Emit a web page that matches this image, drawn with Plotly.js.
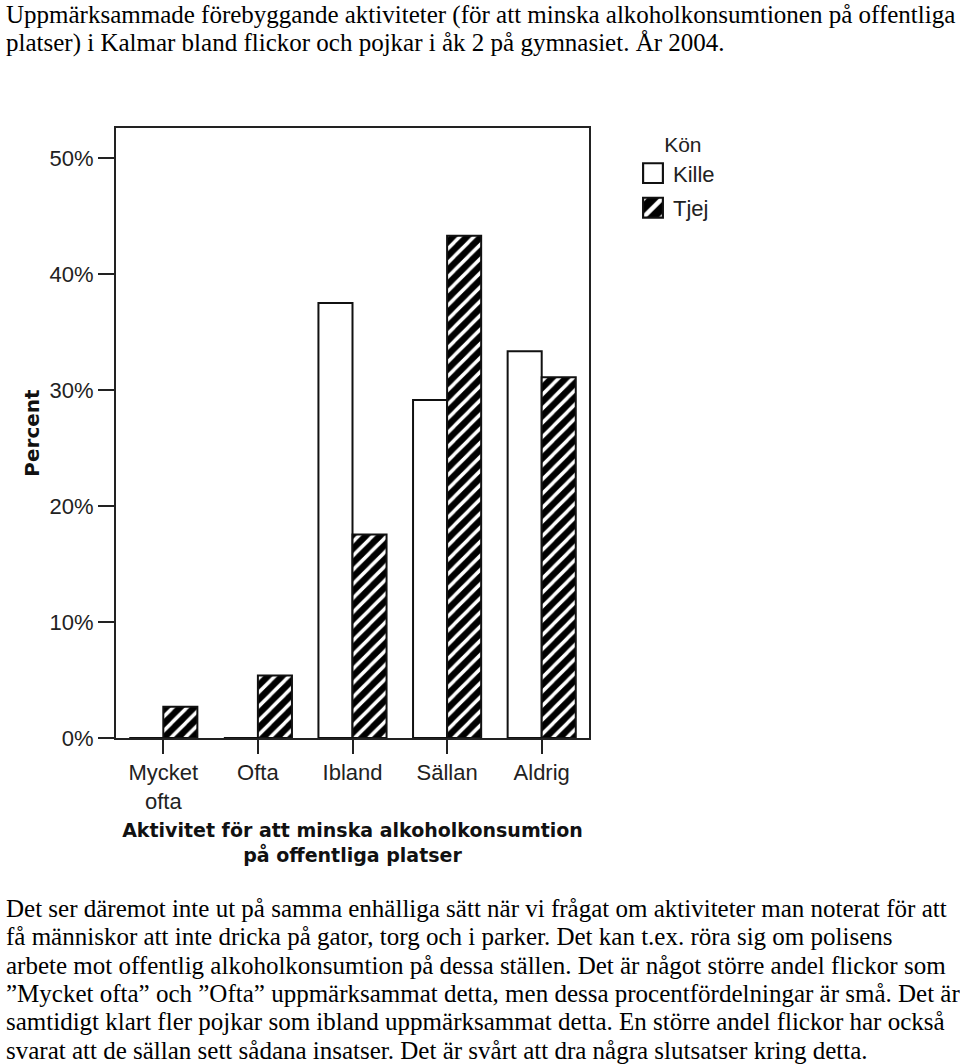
<!DOCTYPE html>
<html>
<head>
<meta charset="utf-8">
<script src="https://cdn.plot.ly/plotly-3.0.1.min.js"></script>
<style>
  html, body { margin: 0; padding: 0; background: #fff; }
  #chart { width: 960px; height: 1064px; }
</style>
</head>
<body>
<div id="chart"></div>
<script>
const categories = ["Mycket<br>ofta", "Ofta", "Ibland", "Sällan", "Aldrig"];
const killeValues = [0, 0, 37.5, 29.15, 33.35];
const tjejValues = [2.7, 5.4, 17.55, 43.3, 31.1];
const yTickValues = [0, 10, 20, 30, 40, 50];
const yTickLabels = ["0%", "10%", "20%", "30%", "40%", "50%"];
const seriesNames = ["Kille", "Tjej"];
const legendTitle = "Kön";
const xTitle = "Aktivitet för att minska alkoholkonsumtion<br>på offentliga platser";
const yTitle = "Percent";
const headingLines = [
  "Uppmärksammade förebyggande aktiviteter (för att minska alkoholkonsumtionen på offentliga",
  "platser) i Kalmar bland flickor och pojkar i åk 2 på gymnasiet. År 2004."
];
const paragraphLines = [
  "Det ser däremot inte ut på samma enhälliga sätt när vi frågat om aktiviteter man noterat för att",
  "få människor att inte dricka på gator, torg och i parker. Det kan t.ex. röra sig om polisens",
  "arbete mot offentlig alkoholkonsumtion på dessa ställen. Det är något större andel flickor som",
  "”Mycket ofta” och ”Ofta” uppmärksammat detta, men dessa procentfördelningar är små. Det är",
  "samtidigt klart fler pojkar som ibland uppmärksammat detta. En större andel flickor har också",
  "svarat att de sällan sett sådana insatser. Det är svårt att dra några slutsatser kring detta."
];

const L = 116, R = 589, T = 128, B = 738;
const W = R - L, H = B - T;
const px2x = p => (p - L) / W;
const px2y = p => (B - p) / H;

const sansFont = "Liberation Sans, Arial, sans-serif";
const serifFont = "Liberation Serif, Times New Roman, serif";
const boldFont = "DejaVu Sans, Verdana, sans-serif";

const traces = [
  {
    type: "bar",
    name: seriesNames[0],
    x: categories,
    y: killeValues,
    legendgroup: "a",
    marker: { color: "#ffffff", line: { color: "#111", width: 2 } },
    hoverinfo: "skip"
  },
  {
    type: "bar",
    name: seriesNames[1],
    x: categories,
    y: tjejValues,
    legendgroup: "b",
    marker: {
      color: "#000000",
      line: { color: "#111", width: 2 },
      pattern: { shape: "/", fgcolor: "#ffffff", bgcolor: "#000000", size: 10, solidity: 0.35, fillmode: "replace" }
    },
    hoverinfo: "skip"
  }
];

const textAnnotations = [];
const headingY = [15, 43];
headingLines.forEach((line, i) => {
  textAnnotations.push({
    xref: "paper", yref: "paper",
    x: px2x(4), y: px2y(headingY[i]), xanchor: "left", yanchor: "middle", align: "left",
    showarrow: false, text: line,
    font: { family: serifFont, size: 25, color: "#000" }
  });
});
const paragraphY = [908, 936.5, 965, 993, 1021.5, 1050];
paragraphLines.forEach((line, i) => {
  textAnnotations.push({
    xref: "paper", yref: "paper",
    x: px2x(4), y: px2y(paragraphY[i]), xanchor: "left", yanchor: "middle", align: "left",
    showarrow: false, text: line,
    font: { family: serifFont, size: 25, color: "#000" }
  });
});

const layout = {
  width: 960,
  height: 1064,
  margin: { l: L, r: 960 - R, t: T, b: 1064 - B, pad: 0 },
  paper_bgcolor: "#ffffff",
  plot_bgcolor: "#ffffff",
  barmode: "group",
  bargap: 0.28,
  bargroupgap: 0,
  showlegend: true,
  legend: {
    x: px2x(633),
    xanchor: "left",
    y: px2y(125),
    yanchor: "top",
    traceorder: "grouped",
    tracegroupgap: 3,
    font: { family: sansFont, size: 22, color: "#222" },
    title: { text: "\u00a0\u00a0\u00a0\u00a0\u00a0" + legendTitle, font: { family: sansFont, size: 21, color: "#222" } },
    bgcolor: "rgba(0,0,0,0)",
    itemclick: false,
    itemdoubleclick: false
  },
  xaxis: {
    type: "category",
    range: [-0.5, 4.5],
    showline: true,
    mirror: true,
    linecolor: "#222",
    linewidth: 2,
    ticks: "outside",
    ticklen: 14,
    tickwidth: 2,
    tickcolor: "#222",
    showgrid: false,
    zeroline: false,
    tickfont: { family: sansFont, size: 22, color: "#222" },
    title: { text: xTitle, font: { family: boldFont, size: 19, color: "#111", weight: "bold" }, standoff: 11 },
    fixedrange: true
  },
  yaxis: {
    range: [0, 52.6],
    tickvals: yTickValues,
    ticktext: yTickLabels,
    showline: true,
    mirror: true,
    linecolor: "#222",
    linewidth: 2,
    ticks: "outside",
    ticklen: 16,
    tickwidth: 2,
    tickcolor: "#222",
    showgrid: false,
    zeroline: false,
    tickfont: { family: sansFont, size: 22, color: "#222" },
    title: { text: yTitle, font: { family: boldFont, size: 20, color: "#111", weight: "bold" }, standoff: 5 },
    fixedrange: true
  },
  annotations: textAnnotations
};

Plotly.newPlot("chart", traces, layout, { displayModeBar: false, staticPlot: true }).then(() => {
  document.querySelectorAll("#chart .legend .scrollbox").forEach(g => g.removeAttribute("clip-path"));
  document.querySelectorAll("#chart .legendpoints path").forEach(p => {
    const t = p.getAttribute("transform") || "";
    p.setAttribute("transform", t + " scale(1.65)");
    p.style.strokeWidth = "1.3px";
  });
});
</script>
</body>
</html>
